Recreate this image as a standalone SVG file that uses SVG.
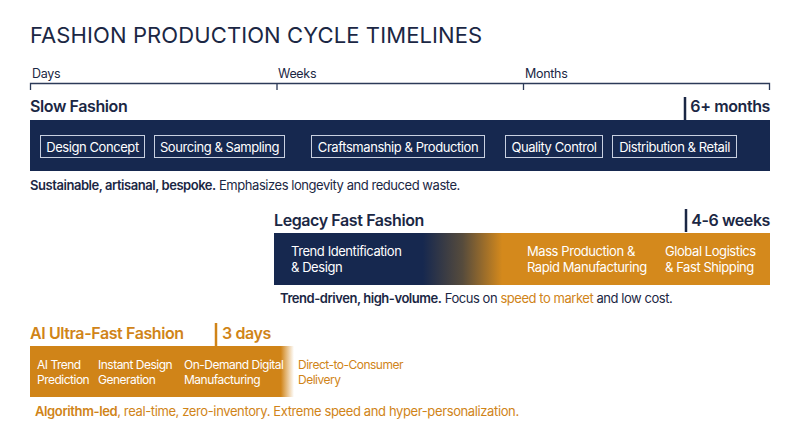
<svg xmlns="http://www.w3.org/2000/svg" width="800" height="447" viewBox="0 0 800 447">
<defs>
<linearGradient id="legacyGrad" gradientUnits="userSpaceOnUse" x1="274" y1="0" x2="770" y2="0">
<stop offset="0" stop-color="#16284f"/>
<stop offset="0.3" stop-color="#16284f"/>
<stop offset="0.38" stop-color="#564b3c"/>
<stop offset="0.46" stop-color="#d4891c"/>
<stop offset="1" stop-color="#d4891c"/>
</linearGradient>
<linearGradient id="aiGrad" gradientUnits="userSpaceOnUse" x1="30" y1="0" x2="294" y2="0">
<stop offset="0" stop-color="#d08418"/>
<stop offset="0.95" stop-color="#d08418"/>
<stop offset="1" stop-color="#d08418" stop-opacity="0"/>
</linearGradient>
<style>
text{font-family:Inter,"Liberation Sans",sans-serif}
.title{font-size:22px;font-weight:400;fill:#1b2744;letter-spacing:0.1px}
.axis{fill:none;stroke:#2c3a58;stroke-width:1.3}
.axlbl{font-size:12.5px;fill:#1b2744;letter-spacing:-0.3px}
.head{font-size:16px;font-weight:600;fill:#1b2744;letter-spacing:-0.4px}
.headO{font-size:16px;font-weight:600;fill:#d08418;letter-spacing:-0.4px}
.bar{stroke:#1b2744;stroke-width:2.5}
.barO{stroke:#d08418;stroke-width:2.5}
.box{fill:none;stroke:#c8d0e0;stroke-width:1}
.boxt{font-size:13px;fill:#ffffff;letter-spacing:-0.43px}
.stage{font-size:13px;fill:#ffffff;letter-spacing:-0.43px}
.stageS{font-size:12px;fill:#ffffff;letter-spacing:-0.5px}
.cap{font-size:13px;fill:#1b2744;letter-spacing:-0.45px}
.capO{font-size:13px;fill:#d08418;letter-spacing:-0.38px}
.b{font-weight:600}
</style>
</defs>
<text class="title" x="30" y="43">FASHION PRODUCTION CYCLE TIMELINES</text>
<g id="axis">
<path class="axis" d="M30.5 90V83.5H769.5V90M277 83.5V90M523.5 83.5V90"/>
<text class="axlbl" x="32" y="78">Days</text>
<text class="axlbl" x="278" y="78">Weeks</text>
<text class="axlbl" x="525" y="78">Months</text>
</g>
<g id="slow">
<text class="head" x="30" y="112">Slow Fashion</text>
<line class="bar" x1="685" y1="97" x2="685" y2="120"/>
<text class="head" x="770" y="112" text-anchor="end">6+ months</text>
<rect x="30" y="120" width="740" height="51" fill="#16284f"/>
<g id="slow-design"><rect class="box" x="40.5" y="135.5" width="104" height="22"/><text class="boxt" x="92.5" y="151.5" text-anchor="middle">Design Concept</text></g>
<g id="slow-sourcing"><rect class="box" x="154.5" y="135.5" width="130" height="22"/><text class="boxt" x="219.5" y="151.5" text-anchor="middle">Sourcing &amp; Sampling</text></g>
<g id="slow-craft"><rect class="box" x="311.5" y="135.5" width="173" height="22"/><text class="boxt" x="398" y="151.5" text-anchor="middle">Craftsmanship &amp; Production</text></g>
<g id="slow-qc"><rect class="box" x="505.5" y="135.5" width="97" height="22"/><text class="boxt" x="554" y="151.5" text-anchor="middle">Quality Control</text></g>
<g id="slow-dist"><rect class="box" x="612.5" y="135.5" width="124" height="22"/><text class="boxt" x="674.5" y="151.5" text-anchor="middle">Distribution &amp; Retail</text></g>
<text class="cap" x="30" y="190"><tspan class="b">Sustainable, artisanal, bespoke.</tspan> Emphasizes longevity and reduced waste.</text>
</g>
<g id="legacy">
<text class="head" x="274" y="226">Legacy Fast Fashion</text>
<line class="bar" x1="686" y1="209" x2="686" y2="232"/>
<text class="head" x="770" y="226" text-anchor="end">4-6 weeks</text>
<rect x="274" y="233" width="496" height="52" fill="url(#legacyGrad)"/>
<g id="legacy-trend"><text class="stage" x="291" y="256">Trend Identification</text><text class="stage" x="291" y="272">&amp; Design</text></g>
<g id="legacy-mass"><text class="stage" x="527" y="256">Mass Production &amp;</text><text class="stage" x="527" y="272">Rapid Manufacturing</text></g>
<g id="legacy-global"><text class="stage" x="665" y="256">Global Logistics</text><text class="stage" x="665" y="272">&amp; Fast Shipping</text></g>
<text class="cap" x="280" y="303"><tspan class="b">Trend-driven, high-volume.</tspan> Focus on <tspan fill="#d08418">speed to market</tspan> and low cost.</text>
</g>
<g id="ai">
<text class="headO" x="30" y="339">AI Ultra-Fast Fashion</text>
<line class="barO" x1="216" y1="323" x2="216" y2="346"/>
<text class="headO" x="222" y="339">3 days</text>
<rect x="30" y="346" width="264" height="51" fill="url(#aiGrad)"/>
<g id="ai-trend"><text class="stageS" x="37" y="369">AI Trend</text><text class="stageS" x="37" y="384">Prediction</text></g>
<g id="ai-design"><text class="stageS" x="98" y="369">Instant Design</text><text class="stageS" x="98" y="384">Generation</text></g>
<g id="ai-mfg"><text class="stageS" x="184" y="369">On-Demand Digital</text><text class="stageS" x="184" y="384">Manufacturing</text></g>
<g id="ai-dtc"><text class="stageS" x="298" y="369" style="fill:#d08418">Direct-to-Consumer</text><text class="stageS" x="298" y="384" style="fill:#d08418">Delivery</text></g>
<text class="capO" x="35" y="416"><tspan class="b">Algorithm-led</tspan>, real-time, zero-inventory. Extreme speed and hyper-personalization.</text>
</g>
</svg>
